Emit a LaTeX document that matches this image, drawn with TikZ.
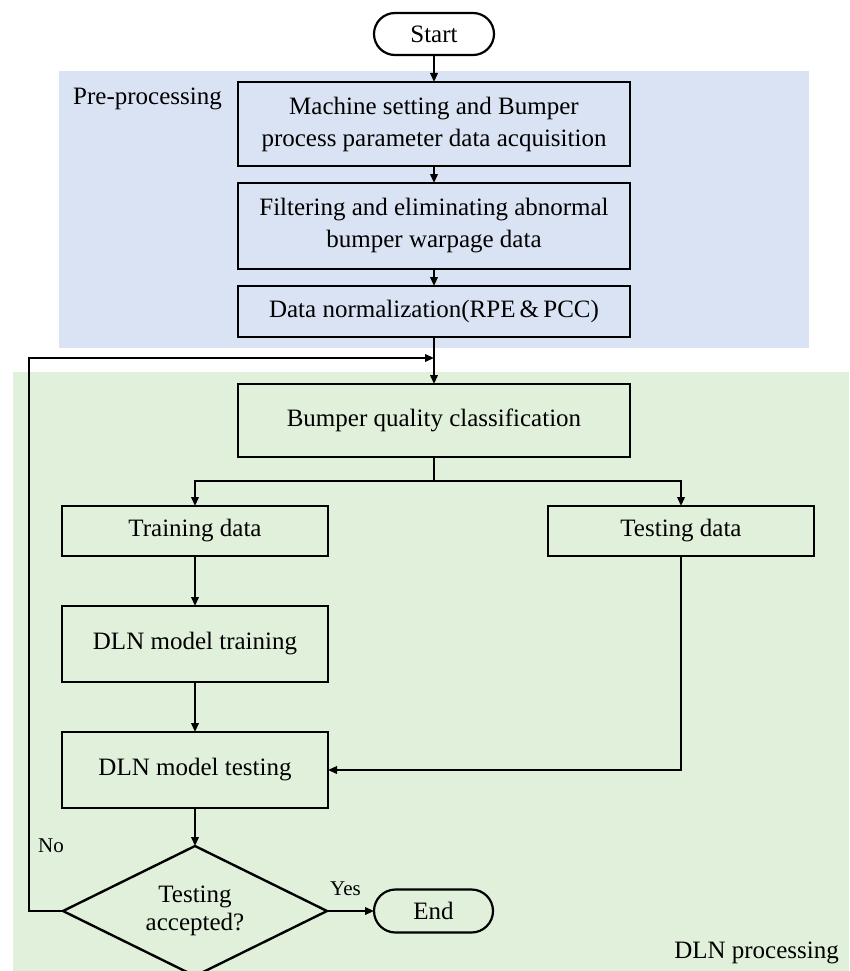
\documentclass[tikz,border=0pt]{standalone}
\usepackage{fontspec}
\setmainfont{Liberation Serif}
\usetikzlibrary{shapes.geometric, shapes.misc, arrows.meta, positioning, backgrounds}

\definecolor{preblue}{RGB}{218,227,243}
\definecolor{dlngreen}{RGB}{224,240,218}

\begin{document}
\begin{tikzpicture}[
    x=1pt, y=-1pt,
    node distance=17pt,
    every node/.style={font=\fontsize{25pt}{32pt}\selectfont},
    terminal/.style={rounded rectangle, draw=black, line width=2.2pt, minimum width=120pt, minimum height=42pt, inner sep=0pt, outer sep=0pt},
    process/.style={rectangle, draw=black, line width=2.4pt, align=center, minimum width=392pt, inner sep=0pt, outer sep=0pt},
    smallbox/.style={process, minimum width=266pt},
    decision/.style={diamond, aspect=2, draw=black, line width=2.4pt, align=center, minimum width=264pt, minimum height=130pt, inner sep=0pt, outer sep=0pt, font=\fontsize{25pt}{28pt}\selectfont},
    tag/.style={inner sep=0pt, font=\fontsize{21pt}{24pt}\selectfont},
    line/.style={draw=black, line width=2pt, -{Triangle[length=9pt, width=7.5pt]}}
]
    \useasboundingbox (0,0) rectangle (849,971);

    % --- PRE-PROCESSING ---
    \node [terminal] (start) at (434,34) {Start};
    \node [process, minimum height=84pt, below=27pt of start] (acq) {Machine setting and Bumper\\process parameter data acquisition};
    \node [process, minimum height=86pt, below=of acq] (filt) {Filtering and eliminating abnormal\\bumper warpage data};
    \node [process, minimum height=51pt, below=of filt] (norm) {Data normalization(RPE\,\&\,PCC)};

    % --- DLN PROCESSING ---
    \node [process, minimum height=73pt, below=47pt of norm] (bumper) {Bumper quality classification};
    \node [smallbox, minimum height=50pt, below=49pt of bumper, xshift=-239pt] (train) {Training data};
    \node [smallbox, minimum height=50pt, below=49pt of bumper, xshift=247pt] (test) {Testing data};
    \node [smallbox, minimum height=76pt, below=50pt of train] (dlntrain) {DLN model training};
    \node [smallbox, minimum height=76pt, below=50pt of dlntrain] (dlntest) {DLN model testing};
    \node [decision, below=38pt of dlntest] (dec) {Testing\\accepted?};
    \node [terminal, minimum width=119pt, minimum height=43pt, right=47pt of dec] (end) {End};

    % --- REGION LABELS ---
    \node [anchor=base west, inner sep=0pt] (prelabel) at (73,105) {Pre-processing};
    \node [anchor=base east, inner sep=0pt] (dlnlabel) at (839,958) {DLN processing};
    \node [tag, anchor=base west] (nolabel) at (38,852) {No};
    \node [tag, anchor=base west] (yeslabel) at (330,895) {Yes};

    \begin{scope}[on background layer]
        \fill [preblue] (59,71) rectangle (809,348);
        \fill [dlngreen] (13,372) rectangle (849,971);
    \end{scope}

    % --- PATH CONNECTIONS ---
    \coordinate (join) at ([yshift=-21pt]norm.south);
    \coordinate (split) at ([yshift=-24pt]bumper.south);

    \path [line] (start) -- (acq);
    \path [line] (acq) -- (filt);
    \path [line] (filt) -- (norm);
    \path [line] (norm) -- (bumper);

    \path [line] (bumper.south) -- (split) -| (train.north);
    \path [line] (split) -| (test.north);
    \path [line] (train) -- (dlntrain);
    \path [line] (dlntrain) -- (dlntest);
    \path [line] (test) |- (dlntest);
    \path [line] (dlntest) -- (dec);
    \path [line] (dec) -- (end);

    \path [line] (dec.west) -- ++(-34pt,0) |- (join);

\end{tikzpicture}
\end{document}
